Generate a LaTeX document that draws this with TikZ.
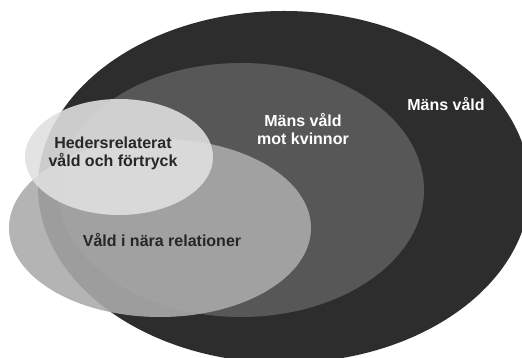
\documentclass[tikz,border=0pt]{standalone}
\usepackage{fontspec}
\setmainfont{Liberation Sans}
\definecolor{darkring}{gray}{0.176}
\definecolor{midring}{gray}{0.34}
\definecolor{narafill}{gray}{0.67}
\definecolor{hedfill}{gray}{0.88}
\begin{document}
\begin{tikzpicture}[x=1pt,y=1pt,
          lbl/.style={font=\fontsize{16}{18}\selectfont\bfseries, align=center},
          ring/.style={fill opacity=0.89}]
          \clip (0,0) rectangle (522,358);
          \fill[darkring] (284,171) ellipse [x radius=246pt, y radius=176pt];
          \fill[midring] (241,168) ellipse [x radius=183pt, y radius=127pt];
          \fill[narafill, ring] (160,130) ellipse [x radius=151pt, y radius=89pt];
          \fill[hedfill, ring] (119,201) ellipse [x radius=94pt, y radius=58pt];

          \node[lbl, white] (mv) at (446,254) {Mäns våld};
          \node[lbl, white] (mvk) at (303,229) {Mäns våld\\mot kvinnor};
          \node[lbl, black!85] (hed) at (113,205) {Hedersrelaterat\\våld och förtryck};
          \node[lbl, black!85] (nara) at (162,118) {Våld i nära relationer};
\end{tikzpicture}
\end{document}
